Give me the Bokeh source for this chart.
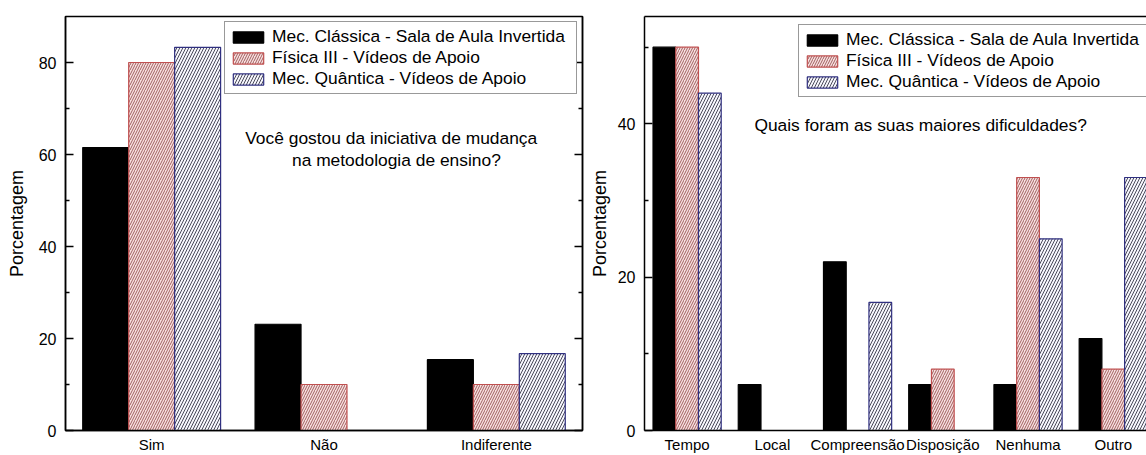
from bokeh.plotting import figure
from bokeh.models import Range1d, FixedTicker, LinearAxis, Label, ColumnDataSource
from bokeh.transform import dodge
from bokeh.layouts import row
from bokeh.embed import file_html
from bokeh.resources import INLINE

# ---------------- data ----------------
series_names = ["Mec. Clássica - Sala de Aula Invertida",
                "Física III - Vídeos de Apoio",
                "Mec. Quântica - Vídeos de Apoio"]

cats_left = ["Sim", "Não", "Indiferente"]
mec_classica_left = [61.5, 23.1, 15.4]
fisica3_left = [80.0, 10.0, 10.0]
mec_quantica_left = [83.3, 0.0, 16.7]

cats_right = ["Tempo", "Local", "Compreensão", "Disposição", "Nenhuma", "Outro"]
mec_classica_right = [50.0, 6.0, 22.0, 6.0, 6.0, 12.0]
fisica3_right = [50.0, 0.0, 0.0, 8.0, 33.0, 8.0]
mec_quantica_right = [44.0, 0.0, 16.7, 0.0, 25.0, 33.0]

yticks_left = [0, 20, 40, 60, 80]
yminor_left = [10, 30, 50, 70]
yticks_right = [0, 20, 40]
yminor_right = [10, 30, 50]

question_left = ["Você gostou da iniciativa de mudança", "na metodologia de ensino?"]
question_right = "Quais foram as suas maiores dificuldades?"

FONT = "Liberation Sans"
BW = 0.8 / 3

styles = [
    dict(fill_color="black", line_color="black"),
    dict(fill_color="#f8e0e0", line_color="#c05050", hatch_pattern="/",
         hatch_color="#a06060", hatch_scale=5, hatch_weight=1),
    dict(fill_color="#f6f6fc", line_color="#303080", hatch_pattern="/",
         hatch_color="#4a4a5a", hatch_scale=6, hatch_weight=1),
]


def src(vals):
    xs = [i + 1 for i, v in enumerate(vals) if v > 0]
    ts = [v for v in vals if v > 0]
    return ColumnDataSource(dict(x=xs, top=ts))


def style_axes(p, cats, yt, ym, tick_standoff, label_standoff):
    p.xgrid.visible = False
    p.ygrid.visible = False
    p.background_fill_color = "white"
    p.border_fill_color = "white"
    xa = p.xaxis[0]
    xa.ticker = FixedTicker(ticks=[i + 1 for i in range(len(cats))])
    xa.major_label_overrides = {i + 1: c for i, c in enumerate(cats)}
    xa.major_tick_in = 0
    xa.major_tick_out = 0
    xa.minor_tick_in = 0
    xa.minor_tick_out = 0
    xa.major_label_standoff = 5
    xa.major_label_text_font = FONT
    xa.major_label_text_font_size = "15px"
    xa.major_label_text_color = "black"
    xa.axis_line_width = 1.5
    xa.axis_line_color = "black"
    ya = p.yaxis[0]
    ya.ticker = FixedTicker(ticks=yt, minor_ticks=ym)
    ya.major_tick_in = 8
    ya.major_tick_out = 0
    ya.minor_tick_in = 4
    ya.minor_tick_out = 0
    ya.major_label_standoff = tick_standoff
    ya.major_label_text_font = FONT
    ya.major_label_text_font_size = "16px"
    ya.major_label_text_color = "black"
    ya.axis_label = "Porcentagem"
    ya.axis_label_standoff = label_standoff
    ya.axis_label_text_font = FONT
    ya.axis_label_text_font_style = "normal"
    ya.axis_label_text_font_size = "18px"
    ya.axis_label_text_color = "black"
    ya.axis_line_width = 1.5
    ya.axis_line_color = "black"
    ya.major_tick_line_width = 1.5
    ya.minor_tick_line_width = 1.5


def draw_bars(p, vals_list):
    offs = [-BW, 0.0, BW]
    for vals, name, st, off in zip(vals_list, series_names, styles, offs):
        p.vbar(x=dodge("x", off), top="top", bottom=0, width=BW, source=src(vals),
               line_width=1.2, legend_label=name, **st)


def style_legend(p, loc):
    lg = p.legend[0]
    lg.location = loc
    lg.padding = 4
    lg.spacing = -1
    lg.margin = 0
    lg.glyph_width = 38
    lg.glyph_height = 14
    lg.label_standoff = 5
    lg.label_width = 300
    lg.label_height = 20
    lg.label_text_font = FONT
    lg.label_text_font_size = "17.4px"
    lg.label_text_color = "black"
    lg.border_line_color = "#333333"
    lg.border_line_width = 1
    lg.background_fill_color = "white"
    lg.background_fill_alpha = 1.0


def question(x, y, text):
    return Label(x=x, y=y, text=text, text_align="center", text_baseline="middle",
                 text_font=FONT, text_font_size="17.4px", text_color="black")


# ---------------- left panel ----------------
p1 = figure(width=584, height=455, output_backend="svg", toolbar_location=None,
            x_range=Range1d(0.5, 3.5), y_range=Range1d(0, 90),
            min_border_left=65, min_border_right=2, min_border_top=14, min_border_bottom=22)
p1.outline_line_color = "black"
p1.outline_line_width = 1.5
draw_bars(p1, [mec_classica_left, fisica3_left, mec_quantica_left])
style_axes(p1, cats_left, yticks_left, yminor_left, 9, 9)
ra = LinearAxis(ticker=FixedTicker(ticks=yticks_left, minor_ticks=yminor_left),
                major_tick_in=8, major_tick_out=0, minor_tick_in=4, minor_tick_out=0,
                major_label_overrides={t: "" for t in yticks_left}, major_label_standoff=0,
                axis_line_width=1.5, major_tick_line_width=1.5, minor_tick_line_width=1.5)
p1.add_layout(ra, "right")
style_legend(p1, (159, 336))
p1.add_layout(question(2.39, 63.6, question_left[0]))
p1.add_layout(question(2.42, 58.9, question_left[1]))

# ---------------- right panel ----------------
p2 = figure(width=562, height=455, output_backend="svg", toolbar_location=None,
            x_range=Range1d(0.5, 6.39), y_range=Range1d(0, 54),
            min_border_left=60, min_border_right=0, min_border_top=16, min_border_bottom=22)
p2.outline_line_color = None
draw_bars(p2, [mec_classica_right, fisica3_right, mec_quantica_right])
style_axes(p2, cats_right, yticks_right, yminor_right, 9, 5)
ta = LinearAxis(ticker=FixedTicker(ticks=[]), major_tick_in=0, major_tick_out=0,
                minor_tick_in=0, minor_tick_out=0,
                major_label_standoff=0, axis_line_width=1.5)
p2.add_layout(ta, "above")
style_legend(p2, (154, 333))
p2.add_layout(question(3.74, 39.8, question_right))

layout = row(p1, p2)
open("out.html", "w").write(file_html(layout, INLINE))
